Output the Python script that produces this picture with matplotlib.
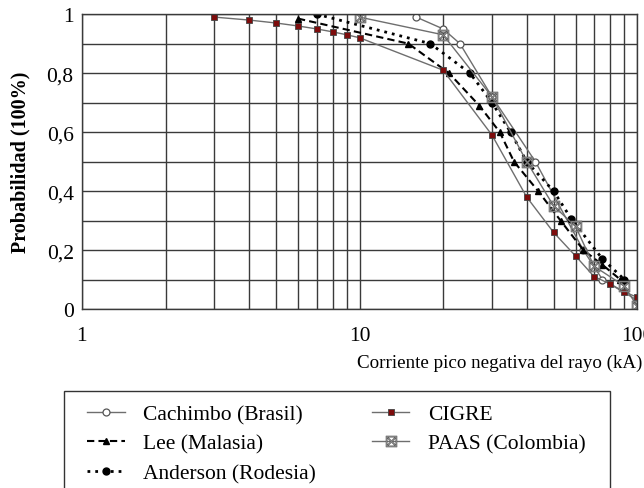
import numpy as np
import matplotlib
matplotlib.use("Agg")
import matplotlib.pyplot as plt
from matplotlib.patches import Rectangle
from matplotlib.ticker import FixedLocator, NullFormatter

plt.rcParams['font.family'] = ['Liberation Serif', 'DejaVu Serif']

# Cachimbo (Brasil)
cach_x = [16, 20, 23, 30, 43, 64, 75, 100]
cach_y = [0.99, 0.95, 0.90, 0.72, 0.50, 0.20, 0.10, 0.03]
# Lee (Malasia)
lee_x = [6, 15, 21, 27, 32, 36, 44, 53, 64, 75, 87]
lee_y = [0.985, 0.90, 0.80, 0.69, 0.60, 0.50, 0.40, 0.30, 0.20, 0.15, 0.10]
# Anderson (Rodesia)
and_x = [7, 18, 25, 30, 35, 40, 50, 58, 75, 90]
and_y = [1.0, 0.90, 0.80, 0.70, 0.60, 0.50, 0.40, 0.305, 0.17, 0.10]
# CIGRE
cig_x = [3, 4, 5, 6, 7, 8, 9, 10, 20, 30, 40, 50, 60, 70, 80, 90, 100]
cig_y = [0.99, 0.98, 0.97, 0.96, 0.95, 0.94, 0.93, 0.92, 0.81, 0.59, 0.38,
         0.26, 0.18, 0.11, 0.085, 0.058, 0.04]
# PAAS (Colombia)
paas_x = [10, 20, 30, 40, 50, 60, 70, 90, 100]
paas_y = [0.99, 0.93, 0.72, 0.50, 0.35, 0.28, 0.145, 0.078, 0.01]

fig = plt.figure(figsize=(6.44, 4.89), dpi=100)
ax = fig.add_axes([0.1273, 0.366, 0.862, 0.603])

gray = '#6e6e6e'
h1, = ax.plot(cach_x, cach_y, color=gray, lw=1.0, marker='o', ms=5,
              mfc='white', mec='#555555', mew=0.9, label='Cachimbo (Brasil)')
h2, = ax.plot(lee_x, lee_y, color='black', lw=1.5, ls=(0, (3.5, 2)), marker='^',
              ms=5, mfc='black', mec='black', label='Lee (Malasia)')
h3, = ax.plot(and_x, and_y, color='black', lw=2.0, ls=(0, (1, 1.8)), marker='o',
              ms=5, mfc='black', mec='black', label='Anderson (Rodesia)')
h4, = ax.plot(cig_x, cig_y, color=gray, lw=1.0, marker='s', ms=5,
              mfc='#7d0c0c', mec='#444444', mew=0.6, label='CIGRE')
h5, = ax.plot(paas_x, paas_y, color=gray, lw=1.0, marker=r'$\boxtimes$', ms=8,
              mfc='#888888', mec='#555555', mew=0.3, label='PAAS (Colombia)')

ax.set_xscale('log')
ax.set_xlim(1, 100)
ax.set_ylim(0, 1)
ax.set_xticks([1, 10, 100])
ax.set_xticklabels(['1', '10', '100'])
ax.xaxis.set_minor_locator(FixedLocator([k * d for d in (1, 10) for k in range(2, 10)]))
ax.xaxis.set_minor_formatter(NullFormatter())
ax.set_yticks([0, 0.2, 0.4, 0.6, 0.8, 1.0])
ax.set_yticklabels(['0', '0,2', '0,4', '0,6', '0,8', '1'])
ax.set_yticks([0.1, 0.3, 0.5, 0.7, 0.9], minor=True)
ax.grid(True, which='both', color='#3a3a3a', lw=1.0)
ax.set_axisbelow(True)
for s in ax.spines.values():
    s.set_color('#3a3a3a')
    s.set_linewidth(1.0)
ax.tick_params(which='both', length=0)
ax.tick_params(axis='x', labelsize=15.5, pad=12)
ax.tick_params(axis='y', labelsize=15.5, pad=6)

ax.set_ylabel('Probabilidad (100%)', fontsize=14.5, fontweight='bold')
ax.yaxis.set_label_coords(-0.092, 0.5)
fig.text(0.997, 1 - 363 / 489, 'Corriente pico negativa del rayo (kA)',
         ha='right', va='center', fontsize=13.7)

# legend frame (cut at bottom edge)
fig.patches.append(Rectangle((64 / 644, -0.05), 546 / 644, 0.05 + 1 - 392 / 489,
                             transform=fig.transFigure, fill=False,
                             ec='#333333', lw=1.0))
fig.legend([h1, h2, h3, h4, h5],
           ['Cachimbo (Brasil)', 'Lee (Malasia)', 'Anderson (Rodesia)',
            'CIGRE', 'PAAS (Colombia)'],
           loc='upper left', bbox_to_anchor=(87 / 644, 1 - 405 / 489),
           ncol=2, frameon=False, fontsize=15.5, handlelength=1.75,
           handletextpad=0.85, labelspacing=0.45, columnspacing=2.6,
           borderpad=0, borderaxespad=0)

fig.savefig('out.png', dpi=100)
